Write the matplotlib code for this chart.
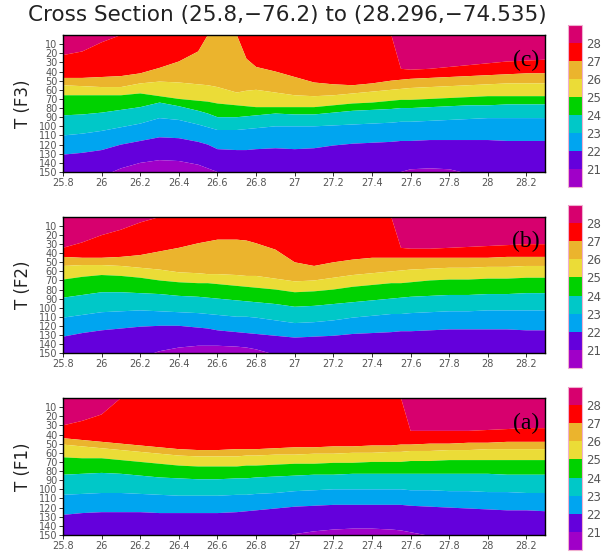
import numpy as np
import matplotlib
matplotlib.use("Agg")
import matplotlib.pyplot as plt
from matplotlib.colors import ListedColormap, BoundaryNorm
from matplotlib.cm import ScalarMappable

# ---------------- data ----------------
X = [25.8, 25.9, 26.0, 26.1, 26.2, 26.3, 26.4, 26.5, 26.55, 26.6, 26.7, 26.75, 26.8, 26.9,
     27.0, 27.1, 27.2, 27.3, 27.4, 27.5, 27.55, 27.6, 27.7, 27.8, 27.9, 28.0, 28.1, 28.2, 28.3]

LEVELS = [21, 22, 23, 24, 25, 26, 27, 28]
COLORS = ["#a000c8", "#6400dc", "#00a5f0", "#00c8c8", "#00d200",
          "#ebdc37", "#ebb42d", "#ff0000", "#d7006e"]
YTICKS = [10, 20, 30, 40, 50, 60, 70, 80, 90, 100, 110, 120, 130, 140, 150]
XTICKS = [25.8, 26.0, 26.2, 26.4, 26.6, 26.8, 27.0, 27.2, 27.4, 27.6, 27.8, 28.0, 28.2]
XTICKLABELS = ["25.8", "26", "26.2", "26.4", "26.6", "26.8", "27", "27.2", "27.4",
               "27.6", "27.8", "28", "28.2"]

# isotherm depths (panel c, F3)
c_d28 = [22, 18, 8, 0, 0, 0, 0, 0, 0, 0, 0, 0, 0, 0, 0, 0, 0, 0, 0, 0, 37, 38, 37, 35, 33, 31, 29, 28, 27]
c_d27 = [47, 47, 46, 45, 42, 36, 29, 18, 0, 0, 0, 26, 35, 40, 46, 52, 54, 55, 53, 50, 49, 48, 47, 46, 45, 44, 43, 42, 42]
c_d26 = [55, 56, 57, 57, 53, 51, 52, 54, 55, 57, 63, 61, 60, 63, 66, 67, 66, 64, 62, 60, 59, 58, 57, 56, 55, 54, 53, 53, 53]
c_d25 = [66, 66, 66, 66, 64, 67, 70, 72, 73, 75, 77, 78, 79, 79, 79, 79, 77, 75, 74, 72, 71, 71, 70, 69, 68, 67, 67, 67, 67]
c_d24 = [88, 87, 85, 82, 79, 74, 78, 83, 86, 90, 90, 89, 88, 86, 87, 87, 85, 83, 82, 81, 80, 80, 79, 78, 77, 77, 76, 76, 76]
c_d23 = [110, 108, 105, 101, 97, 91, 93, 98, 101, 104, 104, 103, 102, 100, 100, 100, 99, 98, 97, 96, 95, 95, 94, 93, 92, 91, 91, 91, 91]
c_d22 = [131, 129, 126, 120, 116, 112, 113, 117, 120, 125, 126, 126, 125, 124, 125, 124, 121, 119, 118, 117, 116, 116, 115, 115, 115, 115, 116, 116, 116]
c_d21 = [160, 160, 155, 146, 140, 137, 138, 142, 146, 150, 155, 160, 160, 160, 160, 160, 160, 160, 160, 155, 150, 147, 146, 147, 152, 160, 160, 160, 160]

# panel b, F2
b_d28 = [34, 28, 20, 14, 6, 0, 0, 0, 0, 0, 0, 0, 0, 0, 0, 0, 0, 0, 0, 0, 34, 35, 35, 34, 33, 32, 31, 30, 30]
b_d27 = [44, 45, 45, 44, 42, 38, 34, 29, 27, 25, 25, 26, 29, 36, 50, 54, 50, 47, 45, 45, 45, 45, 45, 45, 45, 45, 44, 44, 44]
b_d26 = [54, 53, 53, 54, 56, 58, 61, 62, 63, 63, 64, 65, 65, 68, 71, 70, 67, 64, 62, 60, 59, 58, 57, 56, 56, 55, 55, 54, 54]
b_d25 = [69, 66, 64, 65, 67, 70, 72, 73, 73, 74, 76, 77, 78, 80, 83, 82, 80, 77, 75, 73, 73, 72, 70, 69, 69, 68, 68, 67, 67]
b_d24 = [89, 86, 83, 83, 84, 85, 87, 88, 89, 90, 92, 93, 94, 96, 99, 98, 96, 94, 92, 90, 89, 88, 87, 86, 86, 85, 85, 84, 84]
b_d23 = [111, 108, 105, 104, 103, 104, 105, 106, 107, 108, 110, 110, 111, 114, 117, 116, 114, 111, 109, 107, 107, 106, 105, 104, 104, 103, 103, 103, 103]
b_d22 = [132, 128, 125, 123, 121, 120, 120, 122, 123, 125, 127, 128, 129, 131, 133, 132, 131, 129, 128, 127, 126, 126, 125, 124, 124, 124, 124, 125, 125]
b_d21 = [160, 160, 160, 160, 155, 148, 144, 142, 142, 142, 143, 144, 146, 152, 158, 160, 160, 160, 160, 160, 160, 160, 160, 160, 160, 160, 160, 160, 160]

# panel a, F1
a_d28 = [30, 25, 18, 0, 0, 0, 0, 0, 0, 0, 0, 0, 0, 0, 0, 0, 0, 0, 0, 0, 0, 36, 36, 36, 36, 35, 34, 33, 33]
a_d27 = [44, 46, 48, 50, 52, 54, 56, 57, 57, 57, 56, 56, 56, 55, 54, 54, 53, 53, 52, 52, 51, 51, 50, 50, 49, 49, 48, 48, 48]
a_d26 = [51, 53, 55, 57, 59, 61, 63, 64, 64, 64, 64, 63, 63, 62, 62, 61, 61, 60, 60, 59, 59, 58, 58, 57, 57, 56, 56, 56, 56]
a_d25 = [65, 66, 66, 68, 70, 72, 74, 75, 75, 75, 75, 74, 74, 73, 72, 72, 71, 71, 70, 70, 70, 69, 69, 68, 68, 68, 68, 68, 68]
a_d24 = [84, 83, 82, 83, 85, 87, 88, 89, 89, 89, 88, 88, 87, 86, 85, 84, 84, 83, 83, 83, 83, 83, 83, 83, 83, 83, 84, 84, 84]
a_d23 = [106, 105, 104, 104, 105, 106, 107, 107, 107, 107, 106, 106, 105, 104, 102, 101, 100, 100, 100, 100, 100, 101, 101, 102, 102, 103, 103, 104, 104]
a_d22 = [128, 126, 125, 125, 125, 126, 126, 126, 126, 126, 125, 124, 123, 121, 119, 118, 117, 117, 117, 117, 117, 118, 119, 120, 121, 122, 123, 123, 124]
a_d21 = [160, 160, 160, 160, 160, 160, 160, 160, 160, 160, 160, 160, 160, 155, 149, 146, 144, 143, 143, 144, 145, 147, 151, 156, 160, 160, 160, 160, 160]

PANELS = [
    ("T (F3)", "(c)", [c_d21, c_d22, c_d23, c_d24, c_d25, c_d26, c_d27, c_d28]),
    ("T (F2)", "(b)", [b_d21, b_d22, b_d23, b_d24, b_d25, b_d26, b_d27, b_d28]),
    ("T (F1)", "(a)", [a_d21, a_d22, a_d23, a_d24, a_d25, a_d26, a_d27, a_d28]),
]

TITLE = "Cross Section (25.8,\u221276.2) to (28.296,\u221274.535)"

# ---------------- layout (pixels) ----------------
W, H = 611, 552
fig = plt.figure(figsize=(W / 100, H / 100), dpi=100)


def fx(px):
    return px / W


def fy(py):
    return 1 - py / H


AX_BOX = [(35, 172), (217, 353), (398, 535)]
CB_BOX = [(25, 187), (205, 368), (387, 550)]
AX_L, AX_R = 63, 545
CB_L, CB_R = 568, 582

cmap = ListedColormap(COLORS)
bounds = [20] + LEVELS + [29]
norm = BoundaryNorm(bounds, cmap.N)
TICKC = "#555555"

xarr = np.array(X)
for (ylabel, tag, depths), (t, b), (ct, cbb) in zip(PANELS, AX_BOX, CB_BOX):
    ax = fig.add_axes([fx(AX_L), fy(b), fx(AX_R) - fx(AX_L), (b - t) / H])
    iso = [np.zeros(len(X))] + [np.array(d, float) for d in depths[::-1]] + [np.full(len(X), 200.0)]
    band_colors = COLORS[::-1]
    for k, col in enumerate(band_colors):
        ax.fill_between(xarr, iso[k], iso[k + 1], color=col, lw=0, edgecolor="none")
    ax.set_xlim(25.8, 28.296)
    ax.set_ylim(150, 0)
    ax.set_yticks(YTICKS)
    ax.set_yticklabels([str(v) for v in YTICKS])
    ax.set_xticks(XTICKS)
    ax.set_xticklabels(XTICKLABELS)
    ax.tick_params(axis="both", direction="out", length=3, width=0.7,
                   labelsize=7, labelcolor=TICKC, color="#333333", pad=1)
    for sp in ax.spines.values():
        sp.set_linewidth(1.0)
        sp.set_color("black")
    ax.set_ylabel(ylabel, fontsize=12, color="#222222", labelpad=5)
    ax.text(0.988, 1 - 25 / 137, tag, transform=ax.transAxes, ha="right", va="center",
            fontsize=17, family="Liberation Serif", color="black")

    cax = fig.add_axes([fx(CB_L), fy(cbb), fx(CB_R) - fx(CB_L), (cbb - ct) / H])
    cb = fig.colorbar(ScalarMappable(norm=norm, cmap=cmap), cax=cax, ticks=LEVELS,
                      spacing="uniform")
    cb.ax.minorticks_off()
    cb.ax.tick_params(which="both", length=0, labelsize=8.5, labelcolor=TICKC, pad=3)
    cb.outline.set_edgecolor("#f0b0d0")
    cb.outline.set_linewidth(0.8)

fig.text(fx(287), fy(15), TITLE, ha="center", va="center", fontsize=15.5, color="#222222")

fig.savefig("out.png", dpi=100)
